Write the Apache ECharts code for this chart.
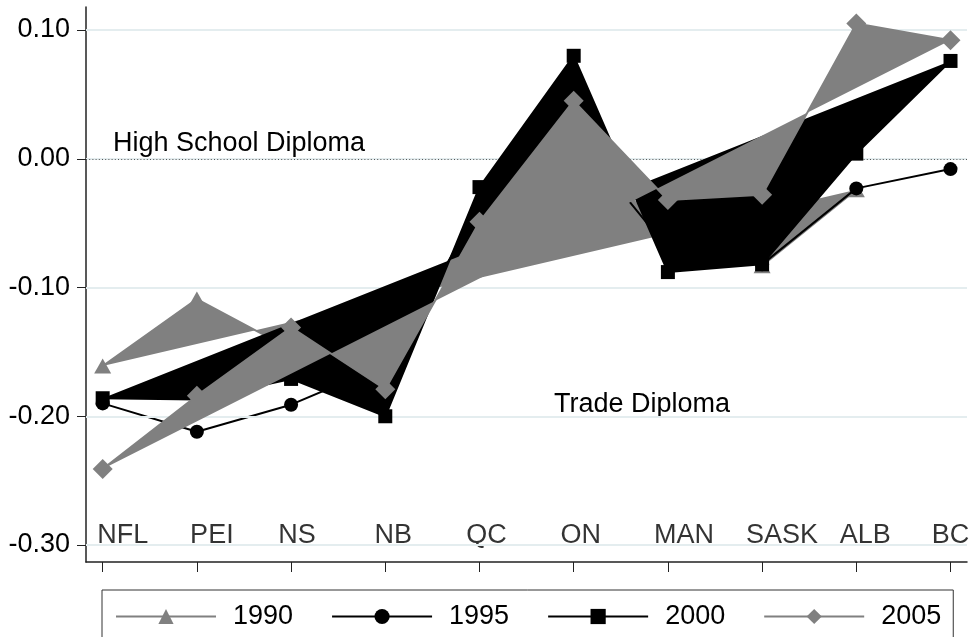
<!DOCTYPE html>
<html>
<head>
<meta charset="utf-8">
<script src="https://cdn.jsdelivr.net/npm/echarts@6/dist/echarts.min.js"></script>
<style>
  html, body { margin: 0; padding: 0; background: #fff; }
  #chart { width: 972px; height: 637px; }
</style>
</head>
<body>
<div id="chart"></div>
<script>
// provinces along the x axis
var provinces = ['NFL', 'PEI', 'NS', 'NB', 'QC', 'ON', 'MAN', 'SASK', 'ALB', 'BC'];

// one value per province and census year (1990 has no BC value)
var y1990 = [-0.161, -0.109, -0.148, -0.170, -0.035, 0.025, -0.065, -0.083, -0.024, null];
var y1995 = [-0.190, -0.212, -0.191, -0.160, -0.040, 0.020, -0.070, -0.082, -0.023, -0.008];
var y2000 = [-0.186, -0.187, -0.171, -0.200, -0.022, 0.080, -0.088, -0.082, 0.004, 0.076];
var y2005 = [-0.241, -0.184, -0.131, -0.179, -0.049, 0.045, -0.032, -0.028, 0.105, 0.092];

var yTicks = [-0.3, -0.2, -0.1, 0, 0.1];

// layout bits (not data)
var labelNudge = [20, 15, 6, 8, 7, 7, 16, 20, 9, 0];
var FONT = 'Liberation Sans, Arial, Helvetica, sans-serif';
var FS = 27;
var GRAY = '#808080';
var BLACK = '#000000';

function pairs(vals) {
  return vals.map(function (v, i) { return [i, v]; });
}

// closed, filled outline of a year (last point joins back to the first)
function areaSeries(name, vals, color, z) {
  return {
    type: 'custom',
    name: name + ' area',
    z: z,
    silent: true,
    data: [[0, 0]],
    renderItem: function (params, api) {
      var pts = [];
      vals.forEach(function (v, i) {
        if (v !== null) pts.push(api.coord([i, v]));
      });
      return { type: 'polygon', shape: { points: pts }, style: { fill: color } };
    }
  };
}

function lineSeries(name, vals, color, symbol, size, z) {
  return {
    type: 'line',
    name: name,
    z: z,
    data: pairs(vals),
    symbol: symbol,
    symbolSize: size,
    showSymbol: true,
    lineStyle: { color: color, width: 2 },
    itemStyle: { color: color, borderWidth: 0 },
    emphasis: { disabled: true }
  };
}

var gridMarks = yTicks.map(function (v) {
  return { yAxis: v, lineStyle: { color: '#e4edef', width: 2, type: 'solid' } };
});
gridMarks.push({ yAxis: 0, lineStyle: { color: '#555', width: 1, type: [1, 2.2] } });

var option = {
  animation: false,
  backgroundColor: '#fff',
  textStyle: { fontFamily: FONT },
  grid: { left: 86, right: 5, top: 7, bottom: 75, containLabel: false },
  xAxis: {
    type: 'value',
    min: -0.177,
    max: 9.175,
    axisLine: { show: true, onZero: false, lineStyle: { color: '#222', width: 1.5 } },
    axisTick: { show: true, length: 10, lineStyle: { color: '#222', width: 1 },
                customValues: provinces.map(function (p, i) { return i; }) },
    axisLabel: { show: false },
    splitLine: { show: false }
  },
  yAxis: {
    type: 'value',
    min: -0.3132,
    max: 0.1179,
    axisLine: { show: true, onZero: false, lineStyle: { color: '#222', width: 1.5 } },
    axisTick: { show: true, length: 9, lineStyle: { color: '#222', width: 1 }, customValues: yTicks },
    axisLabel: {
      customValues: yTicks,
      fontSize: FS,
      color: '#000',
      fontFamily: FONT,
      margin: 16,
      formatter: function (v) { return v.toFixed(2); }
    },
    splitLine: { show: false }
  },
  legend: {
    data: ['1990', '1995', '2000', '2005'],
    left: 102,
    top: 590,
    orient: 'horizontal',
    selectedMode: false,
    itemWidth: 100,
    itemHeight: 19,
    itemGap: 38,
    borderColor: '#333',
    borderWidth: 1,
    padding: [13, 12, 20, 13],
    textStyle: { fontSize: FS, color: '#000', fontFamily: FONT, padding: [0, 0, 0, 12] }
  },
  graphic: [
    { type: 'text', x: 113, y: 144, silent: true,
      style: { text: 'High School Diploma', font: FS + 'px ' + FONT, fill: '#000', align: 'left', verticalAlign: 'middle' } },
    { type: 'text', x: 554, y: 405, silent: true,
      style: { text: 'Trade Diploma', font: FS + 'px ' + FONT, fill: '#000', align: 'left', verticalAlign: 'middle' } }
  ],
  series: [
    {
      type: 'scatter',
      name: 'labels',
      z: 1,
      silent: true,
      symbolSize: 0,
      data: provinces.map(function (p, i) {
        return { value: [i, -0.3], label: { offset: [labelNudge[i], -9] } };
      }),
      label: {
        show: true,
        position: 'inside',
        fontSize: FS,
        color: '#000',
        fontFamily: FONT,
        formatter: function (p) { return provinces[p.dataIndex]; }
      },
      markLine: {
        silent: true,
        symbol: ['none', 'none'],
        label: { show: false },
        data: gridMarks
      }
    },
    areaSeries('1990', y1990, GRAY, 2),
    lineSeries('1990', y1990, GRAY, 'triangle', [17, 15], 3),
    lineSeries('1995', y1995, BLACK, 'circle', 14, 4),
    areaSeries('2000', y2000, BLACK, 5),
    lineSeries('2000', y2000, BLACK, 'rect', 14, 6),
    areaSeries('2005', y2005, GRAY, 7),
    lineSeries('2005', y2005, GRAY, 'diamond', 20, 8)
  ]
};

var myChart = echarts.init(document.getElementById('chart'), null, { renderer: 'canvas' });
myChart.setOption(option);
</script>
</body>
</html>
